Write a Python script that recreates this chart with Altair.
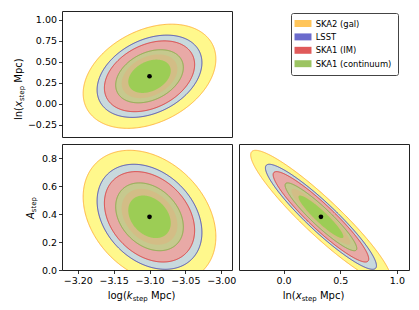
import altair as alt
import numpy as np
import pandas as pd

# ---- data ----
params = ["k", "x", "A"]
centre_vals = [-3.10, 0.33, 0.38]          # fiducial point
outer_half = [0.0925, 0.62, 0.475]         # half-extent of outermost contour
corr_kx = 0.33
corr_kA = -0.30
corr_xA = -0.93
layer_scale = [1.0, 0.79, 0.68, 0.51, 0.42, 0.32]
layer_fill = ["#fff88c", "#c8d9dd", "#e8a9a6", "#c6c98e", "#d3bd86", "#9ccd55"]
layer_stroke = ["#ffb640", "#4b4bb5", "#dc3b3b", "#86ad48", None, None]
legend_names = ["SKA2 (gal)", "LSST", "SKA1 (IM)", "SKA1 (continuum)"]
legend_colors = ["#ffc55a", "#6b6bcc", "#e05a5a", "#9cc462"]
k_dom = [-3.222, -2.985]
x_dom = [-0.393, 1.107]
A_dom = [0.0, 0.9]
k_ticks = [-3.20, -3.15, -3.10, -3.05, -3.00]
x_ticks_left = [-0.25, 0.0, 0.25, 0.5, 0.75, 1.0]
x_ticks_bottom = [0.0, 0.5, 1.0]
A_ticks = [0.0, 0.2, 0.4, 0.6, 0.8]

W, H = 170, 126
FONT = "DejaVu Sans"

ADV = {"l": .278, "n": .634, "(": .390, ")": .390, "x": .592, " ": .318, "M": .863,
       "p": .635, "c": .550, "o": .612, "g": .635, "k": .579, "s": .521, "t": .392,
       "e": .615, "A": .684}


def tw(s, size):
    return sum(ADV.get(c, .6) for c in s) * size


def ellipse_df(i, j, s):
    cx, cy = centre_vals[i], centre_vals[j]
    hx, hy = outer_half[i] * s, outer_half[j] * s
    r = {(0, 1): corr_kx, (0, 2): corr_kA, (1, 2): corr_xA}[(i, j)]
    t = np.linspace(0, np.pi, 241)
    xs = cx + hx * np.cos(t)
    yc = cy + r * hy * np.cos(t)
    dy = hy * np.sqrt(1 - r * r) * np.sin(t)
    return pd.DataFrame({"x": xs, "lo": yc - dy, "hi": yc + dy})


def axis(values, fmt, show):
    if not show:
        return None
    return alt.Axis(values=values, format=fmt, labelFont=FONT, labelFontSize=9.5,
                    labelColor="black", tickColor="black", tickSize=3.5, tickWidth=0.8,
                    domain=False, grid=False, title=None, labelPadding=2,
                    labelFlush=False, labelOverlap=False)


def title_layers(pieces, x0, y0, rotated):
    out = []
    pos = 0.0
    for text, size, italic, shift in pieces:
        lead = 0.0
        while text.startswith(" "):
            lead += tw(" ", size)
            text = text[1:]
        pos += lead
        if rotated:
            xv, yv, ang = x0 + shift, y0 - pos, 270
        else:
            xv, yv, ang = x0 + pos, y0 + shift, 0
        out.append(
            alt.Chart(pd.DataFrame({"t": [text]})).mark_text(
                align="left", baseline="alphabetic", font=FONT, fontSize=size,
                fontStyle="italic" if italic else "normal", color="black", angle=ang
            ).encode(text="t:N", x=alt.value(xv), y=alt.value(yv))
        )
        pos += tw(text, size)
    return out


def panel(i, j, xdom, ydom, xax, yax, extra):
    X = alt.X("x:Q", scale=alt.Scale(domain=xdom, nice=False, zero=False), axis=xax)
    Y = alt.Y("lo:Q", scale=alt.Scale(domain=ydom, nice=False, zero=False), axis=yax)
    layers = []
    for s, f, st in zip(layer_scale, layer_fill, layer_stroke):
        kw = dict(fill=f, clip=True, opacity=1)
        if st:
            kw.update(stroke=st, strokeWidth=1)
        else:
            kw.update(strokeWidth=0)
        layers.append(alt.Chart(ellipse_df(i, j, s)).mark_area(**kw).encode(x=X, y=Y, y2="hi:Q"))
    dot = pd.DataFrame({"x": [centre_vals[i]], "lo": [centre_vals[j]]})
    layers.append(alt.Chart(dot).mark_circle(color="black", size=22, opacity=1).encode(x=X, y=Y))
    layers += extra
    return alt.layer(*layers).properties(width=W, height=H)


xsub = [("ln(", 10, False, 0), ("x", 10, True, 0), ("step", 7, False, 2.3), (" Mpc)", 10, False, 0)]
ksub = [("log(", 10, False, 0), ("k", 10, True, 0), ("step", 7, False, 2.3), (" Mpc)", 10, False, 0)]
Asub = [("A", 10, True, 0), ("step", 7, False, 2.3)]

leg_df = pd.DataFrame({"name": legend_names, "x": [centre_vals[0]] * 4, "lo": [centre_vals[1]] * 4})
legend_layer = alt.Chart(leg_df).mark_square(opacity=0, size=1).encode(
    x=alt.X("x:Q", scale=alt.Scale(domain=k_dom, nice=False, zero=False), axis=None),
    y=alt.Y("lo:Q", scale=alt.Scale(domain=x_dom, nice=False, zero=False), axis=axis(x_ticks_left, ".2f", True)),
    color=alt.Color("name:N", scale=alt.Scale(domain=legend_names, range=legend_colors),
                    legend=alt.Legend(orient="none", legendX=229, legendY=2, title=None,
                                      symbolType="M-2,-0.82H2V0.82H-2Z", symbolSize=72,
                                      symbolOpacity=1, symbolStrokeWidth=0, symbolOffset=1.5,
                                      labelFont=FONT, labelFontSize=8.4, labelColor="black",
                                      labelOffset=8.2, rowPadding=4.4, padding=6,
                                      strokeColor="#444", fillColor="white", cornerRadius=2)),
)

tl = panel(0, 1, k_dom, x_dom, None, axis(x_ticks_left, ".2f", True),
           [legend_layer] + title_layers(xsub, -40.5, 109, True))
bl = panel(0, 2, k_dom, A_dom, axis(k_ticks, ".2f", True), axis(A_ticks, ".1f", True),
           title_layers(ksub, 45.7, 154.7, False) + title_layers(Asub, -28, 75, True))
br = panel(1, 2, x_dom, A_dom, axis(x_ticks_bottom, ".1f", True), None,
           title_layers(xsub, 43.7, 154.7, False))

chart = alt.vconcat(tl, alt.hconcat(bl, br, spacing=7, bounds="flush"),
                    spacing=7, bounds="flush").properties(
    padding={"left": 4, "top": 2, "right": 0, "bottom": 0}
).configure_view(stroke="#222", strokeWidth=1)

chart.save("out.html", embed_options={"renderer": "svg", "actions": False})
